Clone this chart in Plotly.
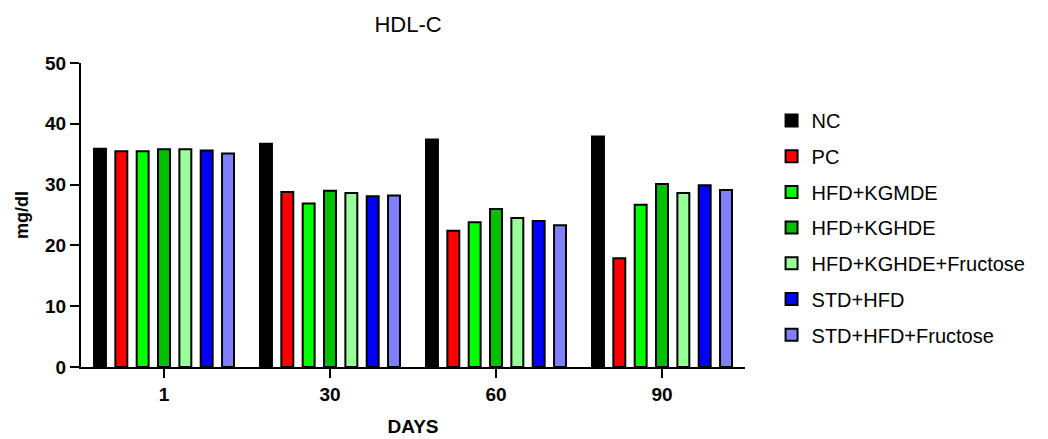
import plotly.graph_objects as go

days = ["1", "30", "60", "90"]
groups = ["NC", "PC", "HFD+KGMDE", "HFD+KGHDE", "HFD+KGHDE+Fructose", "STD+HFD", "STD+HFD+Fructose"]
colors = ["#000000", "#FF0000", "#00FF00", "#00C000", "#99FF99", "#0000FF", "#8080FF"]

nc = [35.9, 36.7, 37.4, 37.9]
pc = [35.5, 28.8, 22.4, 17.9]
hfd_kgmde = [35.5, 26.9, 23.8, 26.7]
hfd_kghde = [35.8, 29.0, 26.0, 30.1]
hfd_kghde_fru = [35.8, 28.6, 24.5, 28.6]
std_hfd = [35.6, 28.1, 24.0, 29.9]
std_hfd_fru = [35.1, 28.2, 23.3, 29.1]

series = [nc, pc, hfd_kgmde, hfd_kghde, hfd_kghde_fru, std_hfd, std_hfd_fru]

FONT = "Liberation Sans, Arial, sans-serif"

fig = go.Figure()
for name, vals, col in zip(groups, series, colors):
    fig.add_trace(go.Bar(
        x=days, y=vals, name=name, legendgroup=name,
        marker=dict(color=col, line=dict(color="#000000", width=2)),
    ))

fig.update_layout(
    barmode="group",
    bargap=0.1,
    bargroupgap=0.44,
    width=1048, height=439,
    margin=dict(l=70, r=311, t=55, b=80),
    plot_bgcolor="white", paper_bgcolor="white",
    font=dict(family=FONT, color="#000000"),
    title=dict(text="HDL-C", x=0.3817, xanchor="center", y=0.962, yanchor="middle",
               font=dict(size=22, family=FONT, color="#000000")),
    legend=dict(x=1.04, xanchor="left", y=0.875, yanchor="top",
                font=dict(size=20, family=FONT, color="#000000"),
                tracegroupgap=6.7, bgcolor="rgba(0,0,0,0)"),
    xaxis=dict(
        type="category", range=[-0.5, 3.5],
        showline=True, linecolor="#000000", linewidth=2,
        ticks="outside", ticklen=9, tickwidth=2, tickcolor="#000000",
        showgrid=False, zeroline=False,
        tickfont=dict(size=19, family=FONT, color="#000000", weight="bold"),
        title=dict(text="<b>DAYS</b>", standoff=16,
                   font=dict(size=19, family=FONT, color="#000000")),
    ),
    yaxis=dict(
        range=[0, 50], tickvals=[0, 10, 20, 30, 40, 50],
        showline=True, linecolor="#000000", linewidth=2,
        ticks="outside", ticklen=9, tickwidth=2, tickcolor="#000000",
        showgrid=False, zeroline=False,
        tickfont=dict(size=19, family=FONT, color="#000000", weight="bold"),
        title=dict(text="<b>mg/dl</b>", standoff=12,
                   font=dict(size=18, family=FONT, color="#000000")),
    ),
)

fig.write_html("out.html")
